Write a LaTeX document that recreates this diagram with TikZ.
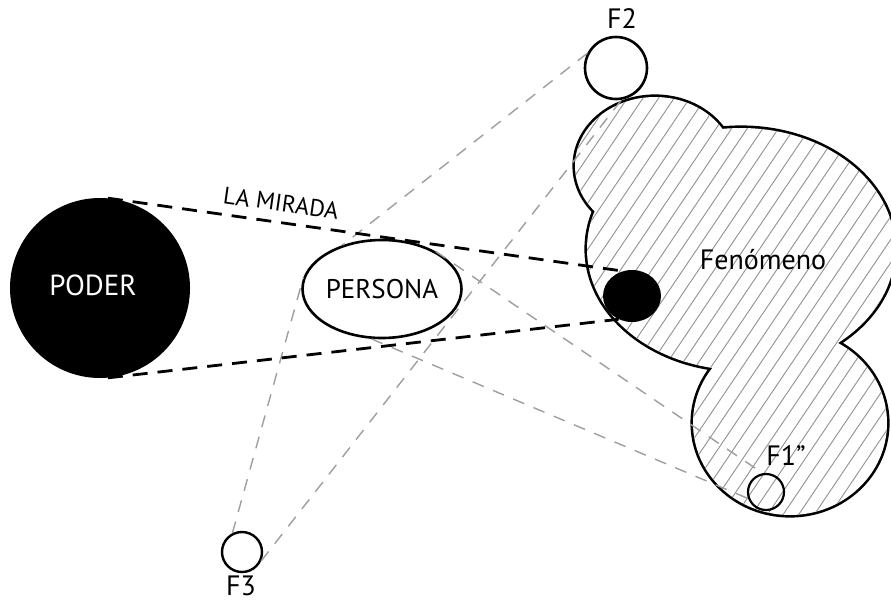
\documentclass[tikz,border=0pt]{standalone}
\usepackage{fontspec}
\setmainfont{PT Sans}
\usetikzlibrary{shapes.geometric}
\definecolor{raygray}{RGB}{158,158,158}
\definecolor{hatchgray}{RGB}{145,145,145}
\newcommand\fenshapes{(655,166) ellipse [x radius=80, y radius=69]
  (741,249) ellipse [x radius=154, y radius=121]
  (790,423) ellipse [x radius=97, y radius=92]}
\begin{document}
\begin{tikzpicture}[x=1pt,y=-1pt,
  outl/.style={line width=2.6pt},
  mirada/.style={line width=2.8pt, dash pattern=on 15pt off 10pt},
  ray/.style={line width=1.4pt, color=raygray, dash pattern=on 12pt off 10pt},
  hatchline/.style={line width=0.9pt, color=hatchgray},
  lbl/.style={font=\fontsize{28}{32}\selectfont, inner sep=0pt},
  smalllbl/.style={font=\fontsize{24}{28}\selectfont, inner sep=0pt},
  ring/.style={circle, draw, outl, inner sep=0pt},
]
\useasboundingbox (0,0) rectangle (891,603);
\clip (0,0) rectangle (891,603);

% Fenomeno blob: union of three lobes
\draw[line width=5.2pt] \fenshapes;
\fill[white] \fenshapes;
\begin{scope}
  \clip \fenshapes;
  \foreach \i in {0,...,36} {\draw[hatchline] (300+15.6*\i,560) -- ++(378,-560);}
\end{scope}

% nodes
\node[circle, fill=black, minimum size=180pt, inner sep=0pt] (poder) at (100,288) {};
\node[lbl, text=white, font=\fontsize{29}{32}\selectfont] (poderlbl) at (93,285) {PODER};
\node[ellipse, draw, outl, fill=white, minimum width=130pt, minimum height=98pt, lbl, font=\fontsize{27}{30}\selectfont] (persona) at (382,289) {PERSONA};
\node[ellipse, fill=black, minimum width=58pt, minimum height=52pt, inner sep=0pt] (eye) at (632,296) {};
\node[ring, fill=white, minimum size=62pt] (f2) at (616,68) {};
\node[lbl] (f2lbl) at (622,19) {F2};
\node[ring, fill=white, line width=2.4pt, minimum size=40pt] (f3) at (242,552) {};
\node[lbl] (f3lbl) at (241,586) {F3};
\node[ring, line width=2.2pt, minimum size=36pt] (f1) at (766,492) {};
\node[lbl] (f1lbl) at (786,456) {F1”};
\node[lbl] (fenlbl) at (763,260) {Fenómeno};
\node[smalllbl, rotate=-8] (miradalbl) at (281,203) {LA MIRADA};

% rays
\draw[ray] (f2.153) -- (persona.132);
\draw[ray] (f3.-25) -- (f2.280);
\draw[ray] (f3.117) -- (persona.172);
\draw[ray] (persona.35) -- (f1.100);
\draw[ray] (persona.258) -- (f1.200);

% la mirada
\draw[mirada] (poder.85) -- (eye.110);
\draw[mirada] (poder.-85) -- (eye.240);
\end{tikzpicture}
\end{document}
